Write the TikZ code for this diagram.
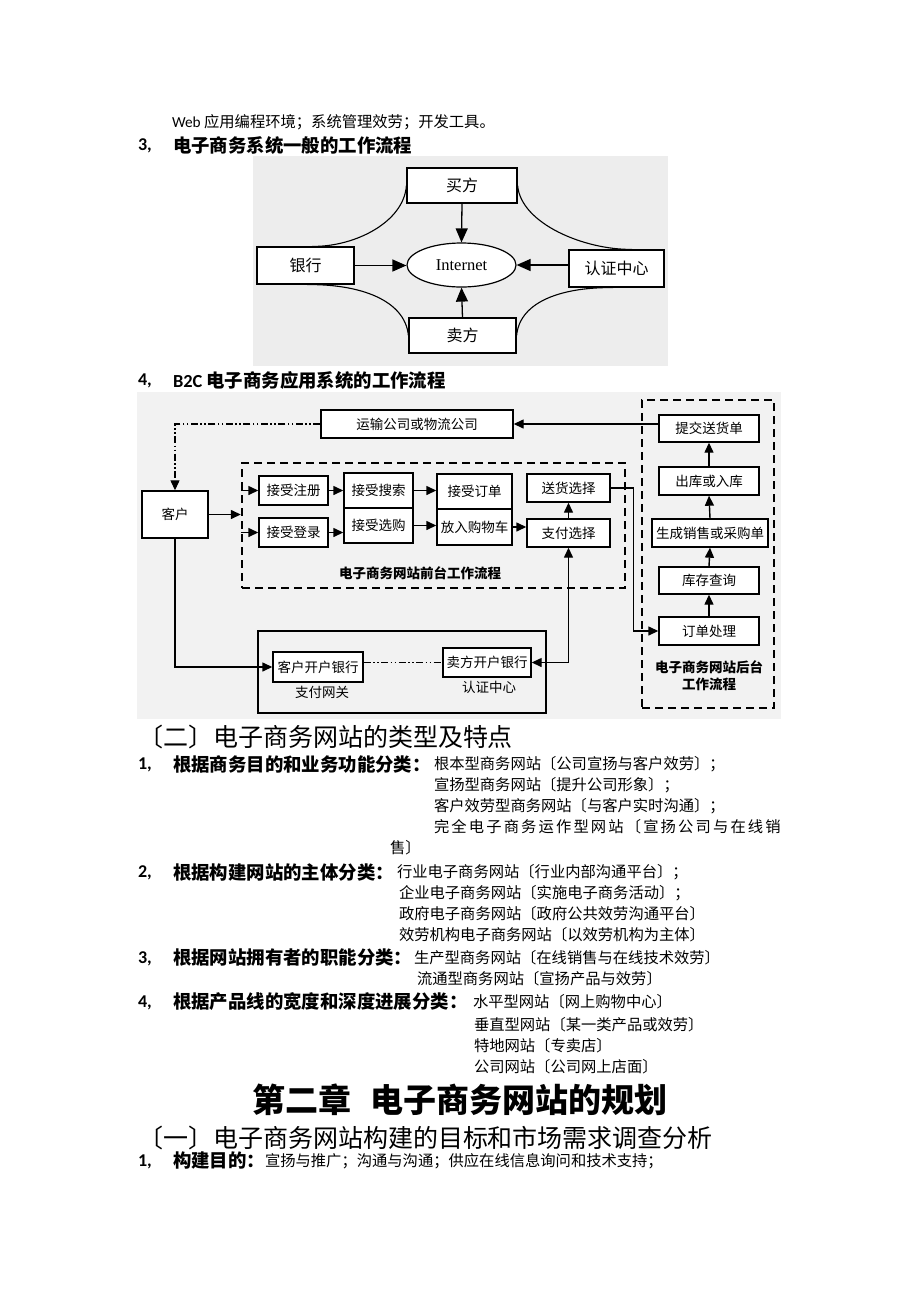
\documentclass[tikz,border=0pt]{standalone}
\usepackage{fontspec}
\setmainfont{Noto Sans CJK SC}
\newfontfamily\cjk{Noto Sans CJK SC}
\newfontfamily\lat{Carlito}
\newfontfamily\tnr{Liberation Serif}
\usetikzlibrary{arrows.meta,shapes.geometric}
\newcommand{\fbody}{\fontsize{15.3pt}{18pt}\selectfont}
\newcommand{\fhead}{\fontsize{18.4pt}{22pt}\selectfont\bfseries}
\newcommand{\fnum}{\lat\fontsize{18pt}{22pt}\selectfont\bfseries}
\tikzset{
  txt/.style={anchor=west, inner sep=0pt, outer sep=0pt},
  box1/.style={draw, line width=1.2pt, fill=white, inner sep=0pt, font=\cjk\fontsize{16pt}{18pt}\selectfont},
  arr1/.style={line width=1.3pt, -{Triangle[length=14pt,width=12pt]}},
  crv/.style={line width=1.1pt},
  box2/.style={draw, line width=1.4pt, fill=white, inner sep=0pt, font=\cjk\fontsize{13.5pt}{16pt}\selectfont},
  arr2/.style={line width=1.4pt, -{Triangle[length=10pt,width=9pt]}},
  dbox/.style={draw, line width=2.4pt, dash pattern=on 8pt off 5pt, inner sep=0pt},
  ddot/.style={line width=1.2pt, dash pattern=on 7pt off 2.5pt on 1.5pt off 2.5pt on 1.5pt off 2.5pt},
  lbl2/.style={inner sep=0pt, font=\cjk\fontsize{13.5pt}{17pt}\selectfont\bfseries, align=center},
}
\begin{document}
\begin{tikzpicture}[x=1pt,y=-1pt]
\useasboundingbox (0,0) rectangle (920,1302);
\fill[white] (0,0) rectangle (920,1302);

% ---------- top text ----------
\node[txt, font=\fbody] (t0) at (172,122) {{\lat Web} 应用编程环境；系统管理效劳；开发工具。};
\node[txt, font=\fnum] (n3) at (138,146) {3,};
\node[txt, font=\fhead] (h3) at (173,145) {电子商务系统一般的工作流程};

% ---------- diagram 1 ----------
\fill[black!7] (253,156) rectangle (668,366);
\node[box1, minimum width=110pt, minimum height=35pt] (buyer) at (462,185.5) {买方};
\node[draw, ellipse, line width=1.2pt, fill=white, inner sep=0pt, minimum width=109pt, minimum height=44pt, font=\tnr\fontsize{16.5pt}{18pt}\selectfont] (inet) at (461.5,265) {Internet};
\node[box1, minimum width=97pt, minimum height=37pt] (bank) at (305.5,265.5) {银行};
\node[box1, minimum width=95pt, minimum height=37pt] (ca) at (616.5,268.5) {认证中心};
\node[box1, minimum width=107pt, minimum height=35pt] (seller) at (462.5,335.5) {卖方};

\draw[arr1] (buyer.south) -- (inet.north);
\draw[arr1] (bank.east) -- (bank.east -| inet.west);
\draw[arr1] (ca.west |- inet.east) -- (inet.east);
\draw[arr1] (seller.north) -- (inet.south);

\draw[crv] (buyer.west) .. controls (404,222) and (355,247) .. ([xshift=6.5pt]bank.north);
\draw[crv] (buyer.east) .. controls (521,224) and (585,250) .. ([xshift=15.5pt]ca.north);
\draw[crv] ([xshift=1.5pt]bank.south) .. controls (360,284) and (405,300) .. (seller.west);
\draw[crv] ([xshift=-3.5pt]ca.south) .. controls (565,287) and (520,300) .. (seller.east);

% ---------- heading 4 ----------
\node[txt, font=\fnum] (n4) at (138,381) {4,};
\node[txt, font=\fhead] (h4) at (173,380) {{\lat B2C} 电子商务应用系统的工作流程};

% ---------- diagram 2 ----------
\fill[black!5] (137,392) rectangle (781,719);

\node[box2, minimum width=192pt, minimum height=28pt] (trans) at (417,424) {运输公司或物流公司};
\node[box2, minimum width=66pt, minimum height=47pt] (cust) at (175,514.5) {客户};

\node[dbox, minimum width=383pt, minimum height=125pt] (front) at (433.5,525.5) {};
\node[box2, minimum width=69pt, minimum height=29pt] (reg) at (293.5,490.5) {接受注册};
\node[box2, minimum width=69pt, minimum height=29pt] (login) at (293.5,532.5) {接受登录};
\node[box2, minimum width=69pt, minimum height=35pt] (search) at (378.5,490.5) {接受搜索};
\node[box2, minimum width=69pt, minimum height=35pt] (select) at (378.5,525.5) {接受选购};
\node[box2, minimum width=75pt, minimum height=35pt] (order) at (474.5,491.5) {接受订单};
\node[box2, minimum width=75pt, minimum height=36pt] (cart) at (474.5,527) {放入购物车};
\node[box2, minimum width=83pt, minimum height=28pt] (ship) at (568.5,488) {送货选择};
\node[box2, minimum width=83pt, minimum height=28pt] (pay) at (568.5,533) {支付选择};
\node[lbl2] (flabel) at (420,573) {电子商务网站前台工作流程};

\node[dbox, minimum width=132pt, minimum height=308pt] (back) at (708,554) {};
\node[box2, minimum width=100pt, minimum height=27pt] (submit) at (709,428.5) {提交送货单};
\node[box2, minimum width=100pt, minimum height=28pt] (out) at (709,481) {出库或入库};
\node[box2, minimum width=116pt, minimum height=28pt] (gen) at (710,533) {生成销售或采购单};
\node[box2, minimum width=100pt, minimum height=27pt] (stock) at (709,580.5) {库存查询};
\node[box2, minimum width=100pt, minimum height=28pt] (proc) at (709,631) {订单处理};
\node[lbl2] (blabel) at (709,676) {电子商务网站后台\\工作流程};

\node[draw, line width=1.4pt, inner sep=0pt, minimum width=288pt, minimum height=82pt] (gate) at (402,672) {};
\node[box2, minimum width=90pt, minimum height=30pt] (cbank) at (318,667) {客户开户银行};
\node[box2, minimum width=88pt, minimum height=29pt] (sbank) at (487,662.5) {卖方开户银行};
\node[inner sep=0pt, font=\cjk\fontsize{13.5pt}{16pt}\selectfont] (gwl) at (322,692) {支付网关};
\node[inner sep=0pt, font=\cjk\fontsize{13.5pt}{16pt}\selectfont] (cal) at (489,687) {认证中心};

% connectors diagram 2
\draw[ddot, -{Triangle[length=10pt,width=9pt]}] (trans.west) -| (cust.north);
\draw[arr2] (cust.east) -- (cust.east -| front.west);
\draw[arr2] (front.west |- reg.west) -- (reg.west);
\draw[arr2] (front.west |- login.west) -- (login.west);
\draw[arr2] (reg.east) -- (reg.east -| search.west);
\draw[arr2] (login.east) -- (login.east -| select.west);
\draw[arr2] (search.east) -- (search.east -| order.west);
\draw[arr2] (select.east) -- (select.east -| cart.west);
\draw[arr2] (cart.east) -- (cart.east -| pay.west);
\draw[arr2] (pay.north) -- (ship.south);
\coordinate (sc) at ([xshift=23pt]ship.east);
\draw[arr2] (ship.east) -- (sc) |- (proc.west);
\draw[arr2] (proc.north) -- (stock.south);
\draw[arr2] (stock.north) -- (gen.south);
\draw[arr2] (gen.north) -- (out.south);
\draw[arr2] (out.north) -- (submit.south);
\draw[arr2] (submit.west |- trans.east) -- (trans.east);
\draw[arr2] (cust.south) |- (cbank.west);
\draw[ddot] (cbank.east |- sbank.west) -- (sbank.west);
\draw[line width=1.4pt, {Triangle[length=10pt,width=9pt]}-{Triangle[length=10pt,width=9pt]}] (pay.south) |- (sbank.east);

% ---------- section (二) ----------
\node[txt, font=\fontsize{25pt}{28pt}\selectfont] (s2) at (138,737) {〔二〕电子商务网站的类型及特点};

\node[txt, font=\fnum] (r1n) at (138,765) {1,};
\node[txt, font=\fhead] (r1h) at (173,764) {根据商务目的和业务功能分类：};
\node[txt, font=\fbody] (r1a) at (434,764) {根本型商务网站〔公司宣扬与客户效劳〕；};
\node[txt, font=\fbody] (r1b) at (434,785) {宣扬型商务网站〔提升公司形象〕；};
\node[txt, font=\fbody] (r1c) at (434,806) {客户效劳型商务网站〔与客户实时沟通〕；};
\node[txt, font=\fbody\addfontfeature{LetterSpace=14}] (r1d) at (434,827) {完全电子商务运作型网站〔宣扬公司与在线销};
\node[txt, font=\fbody] (r1e) at (390,848) {售〕};

\node[txt, font=\fnum] (r2n) at (138,873) {2,};
\node[txt, font=\fhead] (r2h) at (173,872) {根据构建网站的主体分类：};
\node[txt, font=\fbody] (r2a) at (397,872) {行业电子商务网站〔行业内部沟通平台〕；};
\node[txt, font=\fbody] (r2b) at (399,893) {企业电子商务网站〔实施电子商务活动〕；};
\node[txt, font=\fbody] (r2c) at (399,914) {政府电子商务网站〔政府公共效劳沟通平台〕};
\node[txt, font=\fbody] (r2d) at (399,935) {效劳机构电子商务网站〔以效劳机构为主体〕};

\node[txt, font=\fnum] (r3n) at (138,959) {3,};
\node[txt, font=\fhead] (r3h) at (173,958) {根据网站拥有者的职能分类：};
\node[txt, font=\fbody] (r3a) at (414,958) {生产型商务网站〔在线销售与在线技术效劳〕};
\node[txt, font=\fbody] (r3b) at (417,979) {流通型商务网站〔宣扬产品与效劳〕};

\node[txt, font=\fnum] (r4n) at (138,1003) {4,};
\node[txt, font=\fhead] (r4h) at (173,1002) {根据产品线的宽度和深度进展分类：};
\node[txt, font=\fbody] (r4a) at (473,1002) {水平型网站〔网上购物中心〕};
\node[txt, font=\fbody] (r4b) at (474,1025) {垂直型网站〔某一类产品或效劳〕};
\node[txt, font=\fbody] (r4c) at (474,1046) {特地网站〔专卖店〕};
\node[txt, font=\fbody] (r4d) at (474,1067) {公司网站〔公司网上店面〕};

% ---------- chapter 2 ----------
\node[inner sep=0pt, font=\fontsize{33pt}{38pt}\selectfont\bfseries] (ch2) at (460,1100) {第二章\hspace{0.6em}电子商务网站的规划};
\node[txt, font=\fontsize{25pt}{28pt}\selectfont] (s1) at (138,1138) {〔一〕电子商务网站构建的目标和市场需求调查分析};
\node[txt, font=\fnum] (g1n) at (138,1162) {1,};
\node[txt, font=\fhead] (g1h) at (173,1161) {构建目的：};
\node[txt, font=\fbody] (g1a) at (265,1161) {宣扬与推广；沟通与沟通；供应在线信息询问和技术支持；};
\end{tikzpicture}
\end{document}
